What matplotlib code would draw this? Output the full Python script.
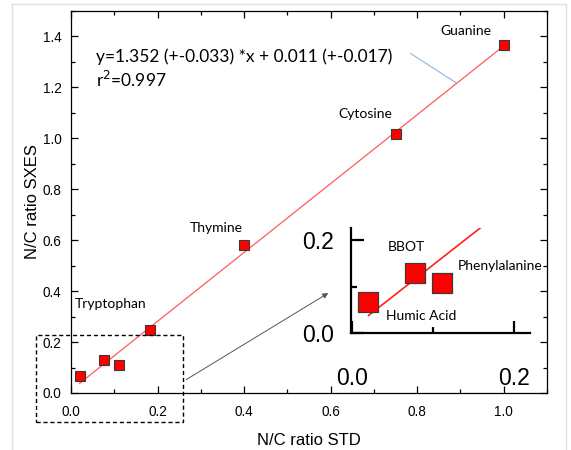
import numpy as np
import matplotlib.pyplot as plt
from matplotlib.patches import Rectangle
from matplotlib.lines import Line2D
from matplotlib.ticker import MultipleLocator

# Datos
samples = ['Humic Acid', 'BBOT', 'Phenylalanine', 'Tryptophan', 'Thymine', 'Cytosine', 'Guanine']
nc_std = [0.02, 0.077, 0.111, 0.182, 0.40, 0.75, 1.00]
nc_sxes = [0.066, 0.128, 0.108, 0.248, 0.580, 1.016, 1.368]

# Recta de ajuste (extremos)
fit_x = [0.02, 1.00]
fit_y = [0.038, 1.363]

eq_text = 'y=1.352 (+-0.033) *x + 0.011 (+-0.017)'
r2_text = 'r$^2$=0.997'

lab_font = 'Lato'
tick_font = 'Liberation Sans'

# Crear la figura
fig = plt.figure(figsize=(5.71, 4.5), dpi=100)
ax = fig.add_axes([0.1243, 0.1267, 0.8337, 0.8489])

ax.plot(fit_x, fit_y, color='#ff5a5a', lw=0.9, zorder=2)
ax.scatter(nc_std, nc_sxes, marker='s', s=62, color='#ff0000',
           edgecolor='#3a3a3a', linewidth=0.8, zorder=3)

ax.set_xlim(0, 1.1)
ax.set_ylim(0, 1.5)
ax.xaxis.set_major_locator(MultipleLocator(0.2))
ax.xaxis.set_minor_locator(MultipleLocator(0.1))
ax.yaxis.set_major_locator(MultipleLocator(0.2))
ax.yaxis.set_minor_locator(MultipleLocator(0.1))
ax.tick_params(which='both', direction='in', top=True, right=True, width=0.9)
ax.tick_params(which='major', length=5)
ax.tick_params(which='minor', length=3)
ax.tick_params(axis='y', pad=7)
ax.tick_params(axis='x', pad=9)
for lab in ax.get_xticklabels() + ax.get_yticklabels():
    lab.set_fontfamily(tick_font)
    lab.set_fontsize(9.8)
for sp in ax.spines.values():
    sp.set_linewidth(0.9)

ax.set_xlabel('N/C ratio STD', fontsize=12, family=tick_font, labelpad=10)
ax.set_ylabel('N/C ratio SXES', fontsize=12, family=tick_font, labelpad=2)

# Etiquetas de puntos
ax.text(0.912, 1.421, 'Guanine', ha='center', va='center', fontsize=10, family=lab_font)
ax.text(0.680, 1.094, 'Cytosine', ha='center', va='center', fontsize=10, family=lab_font)
ax.text(0.335, 0.648, 'Thymine', ha='center', va='center', fontsize=10, family=lab_font)
ax.text(0.091, 0.349, 'Tryptophan', ha='center', va='center', fontsize=10, family=lab_font)

# Ecuacion
ax.text(0.058, 1.32, eq_text, ha='left', va='center', fontsize=12.5, family=lab_font)
ax.text(0.058, 1.228, r2_text, ha='left', va='center', fontsize=12.5, family=lab_font)
ax.plot([0.785, 0.889], [1.333, 1.219], color='#8fb4e3', lw=0.8)

# Rectangulo punteado y flecha
ax.add_patch(Rectangle((-0.081, -0.114), 0.34, 0.342, fill=False, ls=(0, (3, 2)),
                       lw=1.0, edgecolor='black', clip_on=False, zorder=4))
ax.annotate('', xy=(0.600, 0.398), xytext=(0.261, 0.047),
            arrowprops=dict(arrowstyle='-|>', color='#555555', lw=0.7,
                            mutation_scale=8))

# Recuadro ampliado
ins = fig.add_axes([0.6142, 0.2593, 0.314, 0.234])
ins.patch.set_alpha(0)
ins.plot(fit_x, fit_y, color='#ff2020', lw=1.2, zorder=2)
ins.scatter(nc_std[:3], nc_sxes[:3], marker='s', s=190, color='#ff0000',
            edgecolor='#3a3a3a', linewidth=0.9, zorder=3)
ins.set_xlim(-0.002, 0.22)
ins.set_ylim(0, 0.225)
ins.xaxis.set_major_locator(MultipleLocator(0.2))
ins.xaxis.set_minor_locator(MultipleLocator(0.1))
ins.yaxis.set_major_locator(MultipleLocator(0.2))
ins.yaxis.set_minor_locator(MultipleLocator(0.1))
ins.spines['top'].set_visible(False)
ins.spines['right'].set_visible(False)
ins.spines['left'].set_linewidth(1.6)
ins.spines['bottom'].set_linewidth(1.6)
ins.tick_params(which='both', direction='in', width=1.6)
ins.tick_params(which='major', length=9)
ins.tick_params(which='minor', length=4.5)
ins.tick_params(axis='x', pad=24)
ins.tick_params(axis='y', pad=12)
for lab in ins.get_xticklabels() + ins.get_yticklabels():
    lab.set_fontfamily(tick_font)
    lab.set_fontsize(16.5)

ins.text(0.067, 0.184, 'BBOT', ha='center', va='center', fontsize=10, family=lab_font)
ins.text(0.183, 0.143, 'Phenylalanine', ha='center', va='center', fontsize=10, family=lab_font)
ins.text(0.085, 0.036, 'Humic Acid', ha='center', va='center', fontsize=10, family=lab_font)

# Marco gris exterior
for xs, ys in [([12 / 571, 12 / 571], [0, 1 - 4 / 450]),
               ([12 / 571, 566 / 571], [1 - 4 / 450, 1 - 4 / 450]),
               ([566 / 571, 566 / 571], [0, 1 - 4 / 450])]:
    fig.add_artist(Line2D(xs, ys, color='#e0e0e0', lw=1.0, transform=fig.transFigure))

fig.savefig('out.png', dpi=100)
